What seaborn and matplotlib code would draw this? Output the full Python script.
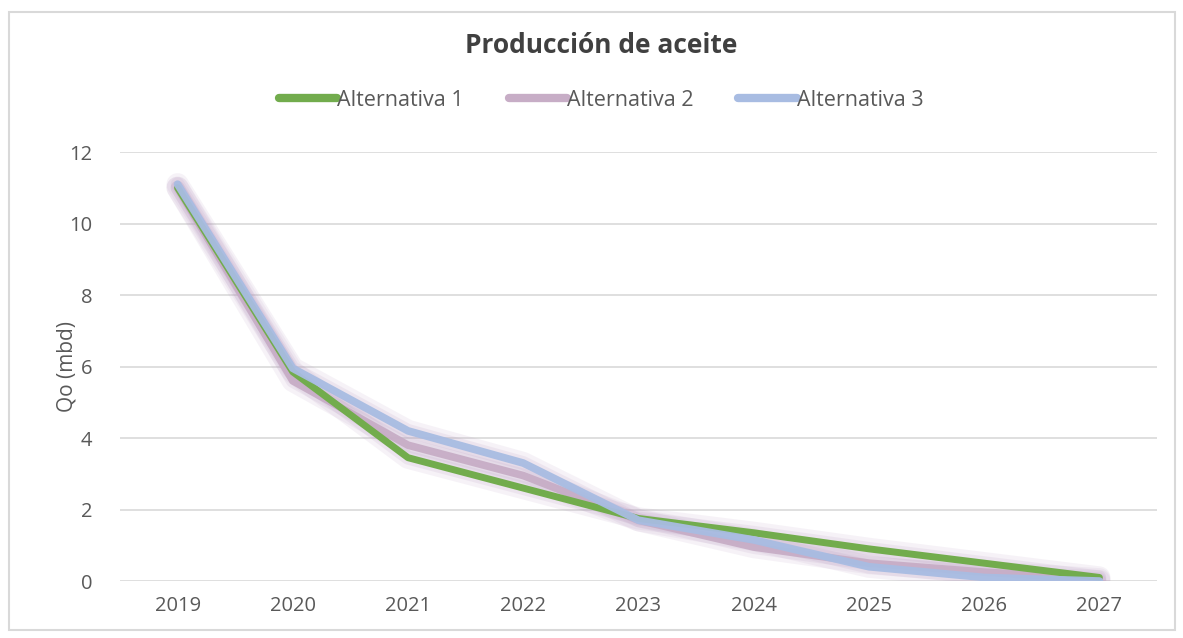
import matplotlib
matplotlib.use("Agg")
import matplotlib.pyplot as plt
import seaborn as sns
import pandas as pd
from matplotlib.lines import Line2D
from matplotlib.patches import Rectangle

# Oil production forecast per alternative (thousand barrels per day)
years = ["2019", "2020", "2021", "2022", "2023", "2024", "2025", "2026", "2027"]
alternativa_1 = [11.0, 5.85, 3.45, 2.6, 1.75, 1.35, 0.9, 0.5, 0.1]
alternativa_2 = [11.0, 5.6, 3.8, 2.95, 1.7, 0.95, 0.5, 0.25, 0.05]
alternativa_3 = [11.1, 5.95, 4.2, 3.3, 1.7, 1.15, 0.4, 0.1, 0.0]
series_names = ["Alternativa 1", "Alternativa 2", "Alternativa 3"]
y_ticks = [0, 2, 4, 6, 8, 10, 12]

colors = {"Alternativa 1": "#72AC4D",
          "Alternativa 2": "#C7ADC6",
          "Alternativa 3": "#A8BCE2"}
widths = {"Alternativa 1": 5.0, "Alternativa 2": 5.5, "Alternativa 3": 5.5}

df = pd.DataFrame({
    "year": years * 3,
    "qo": alternativa_1 + alternativa_2 + alternativa_3,
    "serie": [n for n in series_names for _ in years],
})

sns.set_theme(style="white")
plt.rcParams["font.family"] = ["Open Sans", "DejaVu Sans"]
text_gray = "#595959"

fig = plt.figure(figsize=(11.83, 6.38), dpi=100)
ax = fig.add_axes([0.1014, 0.0893, 0.8766, 0.6724])

# soft halo under every line
for name in ["Alternativa 2", "Alternativa 1", "Alternativa 3"]:
    sub = df[df["serie"] == name]
    sns.lineplot(data=sub, x="year", y="qo", ax=ax, color="#B89AC0",
                 linewidth=16, alpha=0.12, legend=False, sort=False,
                 solid_capstyle="round", solid_joinstyle="round")
    sns.lineplot(data=sub, x="year", y="qo", ax=ax, color="#B89AC0",
                 linewidth=10, alpha=0.15, legend=False, sort=False,
                 solid_capstyle="round", solid_joinstyle="round")

for name in ["Alternativa 2", "Alternativa 1", "Alternativa 3"]:
    sub = df[df["serie"] == name]
    sns.lineplot(data=sub, x="year", y="qo", ax=ax, color=colors[name],
                 linewidth=widths[name], legend=False, sort=False,
                 alpha=0.95 if name != "Alternativa 1" else 1.0,
                 solid_capstyle="round", solid_joinstyle="round")

ax.set_xlim(-0.5, len(years) - 0.5)
ax.set_ylim(0, 12)
ax.set_yticks(y_ticks)
ax.set_yticklabels([str(t) for t in y_ticks])
ax.set_xticks(range(len(years)))
ax.set_xticklabels(years)
ax.grid(axis="y", color="#D9D9D9", linewidth=1.2)
ax.grid(axis="x", visible=False)
ax.set_axisbelow(True)
for s in ax.spines.values():
    s.set_visible(False)
ax.tick_params(axis="both", length=0, labelsize=14.5, colors=text_gray)
ax.tick_params(axis="y", pad=20)
ax.tick_params(axis="x", pad=11)
ax.set_xlabel("")
ax.set_ylabel("Qo (mbd)", fontsize=15, color=text_gray, labelpad=-6)

fig.text(0.508, 0.929, "Producción de aceite", ha="center", va="center",
         fontsize=19, fontweight="bold", color="#404040")

handles = [Line2D([0], [0], color=colors[n], linewidth=6,
                  solid_capstyle="round") for n in series_names]
fig.legend(handles, series_names, loc="center", bbox_to_anchor=(0.508, 0.843),
           ncol=3, frameon=False, fontsize=15.5, labelcolor=text_gray,
           handlelength=2.7, handletextpad=0.0, columnspacing=2.1)

# thin frame around the chart area
fig.patches.append(Rectangle((0.008, 0.013), 0.985, 0.968, transform=fig.transFigure,
                             fill=False, edgecolor="#D9D9D9", linewidth=1.5))

fig.savefig("out.png", dpi=100, facecolor="white")
